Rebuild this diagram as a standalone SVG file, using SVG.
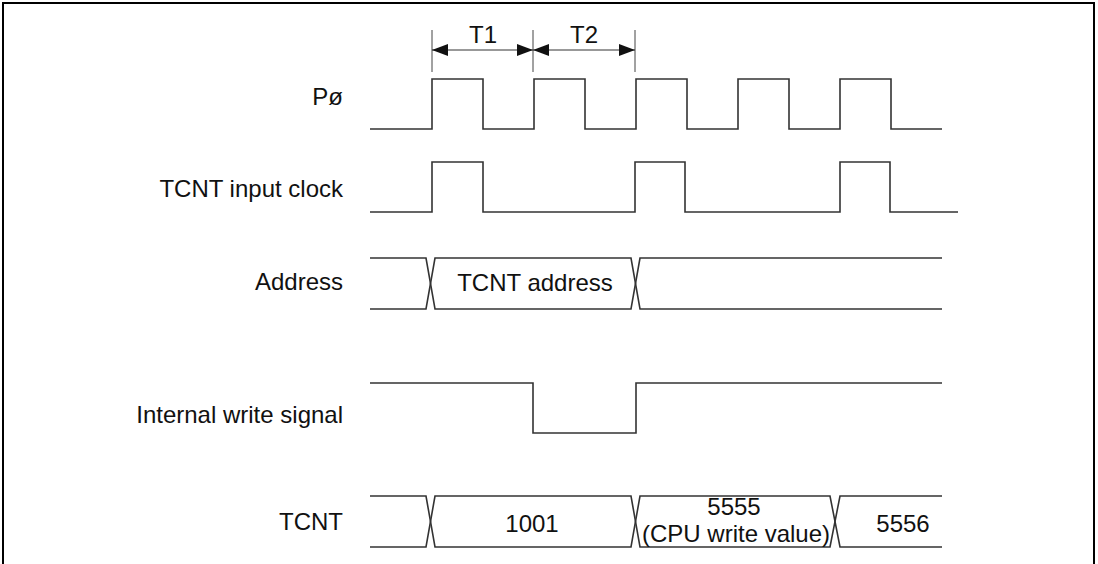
<svg xmlns="http://www.w3.org/2000/svg" width="1098" height="564" viewBox="0 0 1098 564">
<style>
.sig{fill:none;stroke:#333;stroke-width:1.6;stroke-linejoin:miter}
.tick{fill:none;stroke:#444;stroke-width:1}
.dim{fill:none;stroke:#333;stroke-width:1}
.lbl{font-family:"Liberation Sans",Arial,sans-serif;font-size:24px;fill:#111}
.end{text-anchor:end}
.mid{text-anchor:middle}
</style>
<defs>
<marker id="ah" viewBox="0 0 16 12" refX="16" refY="6" markerWidth="16" markerHeight="12" markerUnits="userSpaceOnUse" orient="auto-start-reverse">
<path d="M0,0 L16,6 L0,12 z" fill="#111"/>
</marker>
</defs>
<rect width="1098" height="564" fill="#fff"/>
<path d="M3,564 V3 H1094 V564" fill="none" stroke="#000" stroke-width="2"/>

<g id="labels">
<text class="lbl end" x="343" y="105">Pø</text>
<text class="lbl end" x="343" y="197">TCNT input clock</text>
<text class="lbl end" x="343" y="290">Address</text>
<text class="lbl end" x="343" y="423">Internal write signal</text>
<text class="lbl end" x="343" y="530">TCNT</text>
</g>

<g id="timing-dimensions">
<line class="tick" x1="432" y1="30" x2="432" y2="72"/>
<line class="tick" x1="533" y1="30" x2="533" y2="72"/>
<line class="tick" x1="635" y1="30" x2="635" y2="72"/>
<line class="dim" x1="432" y1="50" x2="533" y2="50" marker-start="url(#ah)" marker-end="url(#ah)"/>
<line class="dim" x1="533" y1="50" x2="635" y2="50" marker-start="url(#ah)" marker-end="url(#ah)"/>
<text class="lbl mid" x="483" y="43">T1</text>
<text class="lbl mid" x="584" y="43">T2</text>
</g>

<g id="sig-pclk">
<path class="sig" d="M370,129 H432 V79 H483 V129 H534 V79 H585 V129 H636 V79 H687 V129 H738 V79 H789 V129 H840 V79 H891 V129 H942"/>
</g>

<g id="sig-tcnt-clock">
<path class="sig" d="M370,212 H432 V162 H483 V212 H635 V162 H685 V212 H840 V162 H890 V212 H958"/>
</g>

<g id="sig-address">
<path class="sig" d="M370,258 H426 L435,309 H631 L640,258 H942"/>
<path class="sig" d="M370,309 H426 L435,258 H631 L640,309 H942"/>
<text class="lbl mid" x="535" y="291">TCNT address</text>
</g>

<g id="sig-write">
<path class="sig" d="M370,383 H533 V433 H636 V383 H942"/>
</g>

<g id="sig-tcnt">
<path class="sig" d="M370,496 H426 L435,547 H631 L640,496 H830 L840,547 H942"/>
<path class="sig" d="M370,547 H426 L435,496 H631 L640,547 H830 L840,496 H942"/>
<text class="lbl mid" x="532" y="532">1001</text>
<text class="lbl mid" x="734" y="515">5555</text>
<text class="lbl mid" x="736" y="542">(CPU write value)</text>
<text class="lbl mid" x="903" y="532">5556</text>
</g>
</svg>
